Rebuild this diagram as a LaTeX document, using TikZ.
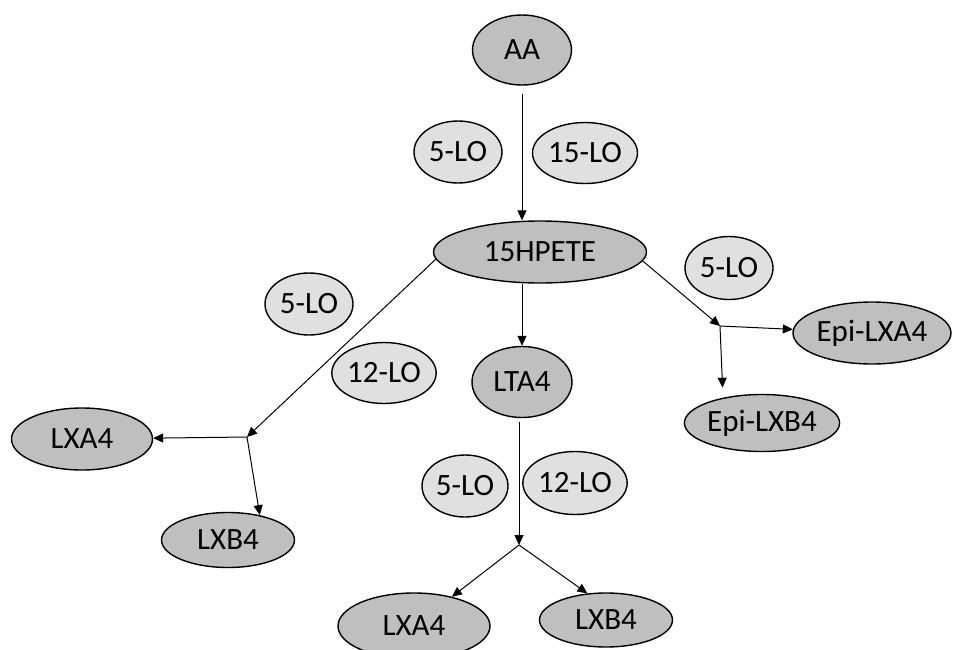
\documentclass[tikz,border=0pt]{standalone}
\usepackage{fontspec}
\setmainfont{Carlito}
\definecolor{prodgray}{HTML}{BFBFBF}
\definecolor{enzgray}{HTML}{E0E0E0}
\usepackage{tikz}
\usetikzlibrary{shapes.geometric, arrows.meta}
\tikzset{
  prod/.style={
    ellipse, draw=black, fill=prodgray, line width=1.4pt,
    inner sep=0pt, minimum width=140pt, minimum height=62pt,
    font=\fontsize{31}{37}\selectfont
  },
  enz/.style={
    ellipse, draw=black, fill=enzgray, line width=1.4pt,
    inner sep=0pt, minimum width=88pt, minimum height=62pt,
    font=\fontsize{31}{37}\selectfont
  },
  arr/.style={-{Triangle[length=10pt,width=9pt]}, line width=1pt, color=black},
}
\begin{document}
\begin{tikzpicture}[x=1pt, y=-1pt]
  \clip (0,0) rectangle (954,649);

  % Substrate
  \node[prod, minimum width=99pt, minimum height=70pt] (aa) at (522,50) {AA};
  \node[enz] (loA) at (458,152) {5-LO};
  \node[enz, minimum width=105pt, minimum height=61pt] (loB) at (585,153) {15-LO};
  \node[prod, minimum width=213pt, minimum height=62pt] (hpete) at (540,252) {15HPETE};

  % Left branch
  \node[enz] (loC) at (309,304) {5-LO};
  \node[enz, minimum width=87pt, minimum height=61pt] (loD) at (384,373) {12-LO};
  \node[prod, minimum width=141pt] (lxaL) at (82,439) {LXA4};
  \node[prod, minimum width=133pt, minimum height=55pt] (lxbL) at (228,540) {LXB4};
  \coordinate (splitL) at (247,437);

  % Middle branch
  \node[prod, minimum width=100pt, minimum height=71pt] (lta) at (522,382) {LTA4};
  \node[enz, minimum width=86pt] (loE) at (465,486) {5-LO};
  \node[enz, minimum width=87pt, minimum height=63pt] (loF) at (575,483) {12-LO};
  \node[prod, minimum width=152pt, minimum height=66pt] (lxaB) at (414,626) {LXA4};
  \node[prod, minimum width=133pt, minimum height=54pt] (lxbB) at (606,620) {LXB4};
  \coordinate (splitB) at (519,545);

  % Right branch
  \node[enz, minimum height=63pt] (loG) at (729,268) {5-LO};
  \node[prod, minimum width=158pt] (epia) at (872,333) {Epi-LXA4};
  \node[prod, minimum width=142pt, minimum height=57pt] (epib) at (762,423) {Epi-LXB4};
  \coordinate (splitR) at (720,326);

  % Arrows
  \draw[arr, shorten <=8pt] (aa.south) -- (aa.south |- hpete.north);
  \draw[arr] (lta.north |- hpete.south) -- (lta.north);
  \draw[arr] (hpete.184) -- (splitL);
  \draw[arr] (splitL) -- (lxaL);
  \draw[arr] (splitL) -- (lxbL.38);
  \draw[arr, shorten <=4pt] (lta.south -| splitB) -- (splitB);
  \draw[arr] (splitB) -- (lxaB);
  \draw[arr] (splitB) -- (lxbB.125);
  \draw[arr] (hpete.-5) -- (splitR);
  \draw[arr] (splitR) -- (epia);
  \draw[arr, shorten >=10pt] (splitR) -- (epib.147);
\end{tikzpicture}
\end{document}
